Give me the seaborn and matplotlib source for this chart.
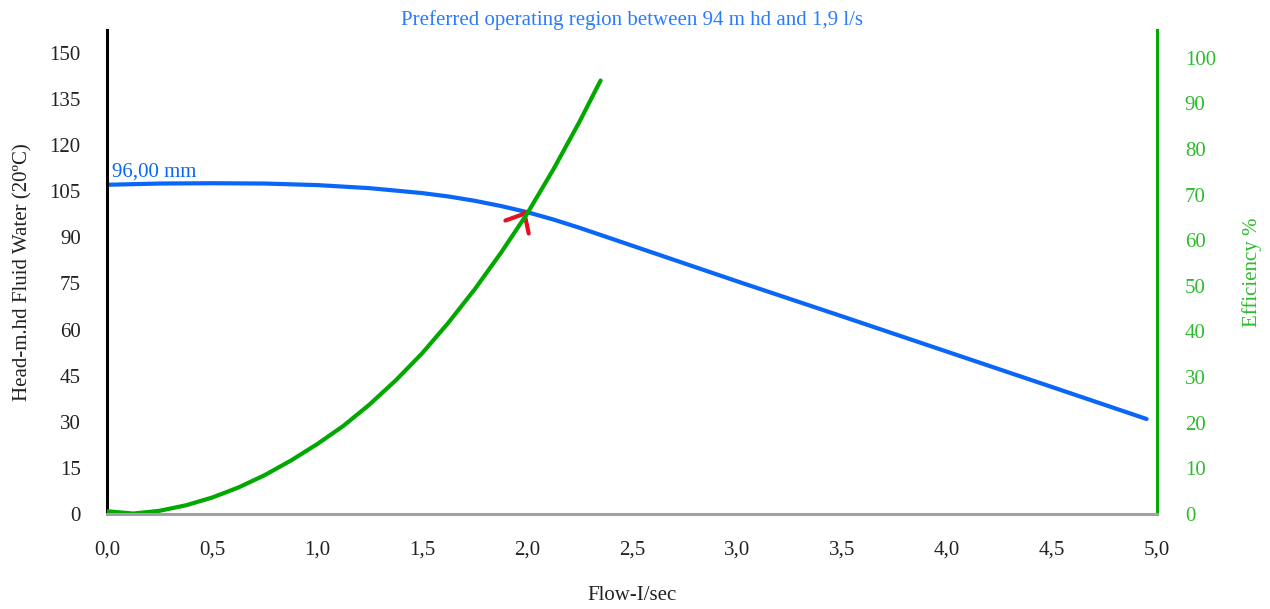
import pandas as pd
import matplotlib
matplotlib.use("Agg")
import matplotlib.pyplot as plt
import seaborn as sns

# --- Datos ---
head_flow = [0.0, 0.25, 0.5, 0.75, 1.0, 1.25, 1.5, 1.625, 1.75, 1.875, 2.0, 2.125,
             2.25, 2.375, 2.5, 2.75, 3.0, 3.5, 4.0, 4.5, 4.95]
head_m = [107.1, 107.5, 107.6, 107.5, 107.0, 106.0, 104.4, 103.3, 101.9, 100.2, 98.2, 95.8,
          93.1, 90.2, 87.3, 81.5, 75.7, 64.3, 52.8, 41.3, 30.9]

eff_flow = [0.0, 0.125, 0.25, 0.375, 0.5, 0.625, 0.75, 0.875, 1.0, 1.125, 1.25, 1.375,
            1.5, 1.625, 1.75, 1.875, 2.0, 2.125, 2.25, 2.35]
eff_pct = [0.6, 0.1, 0.7, 1.9, 3.6, 5.8, 8.5, 11.7, 15.3, 19.3, 24.0, 29.3,
           35.2, 41.9, 49.2, 57.2, 65.8, 75.5, 86.0, 95.0]

x_ticks = [0.0, 0.5, 1.0, 1.5, 2.0, 2.5, 3.0, 3.5, 4.0, 4.5, 5.0]
head_ticks = [0, 15, 30, 45, 60, 75, 90, 105, 120, 135, 150]
eff_ticks = [0, 10, 20, 30, 40, 50, 60, 70, 80, 90, 100]

op_point = (1.995, 98.6)  # punto de operacion (flecha roja)
curve_label = "96,00 mm"
title = "Preferred operating region between 94 m hd and 1,9 l/s"

BLUE = "#0a66f7"
GREEN = "#00a800"
GREEN_TXT = "#2dbb2d"
RED = "#e8101e"

sns.set_theme(style="white")
plt.rcParams['font.family'] = ['Liberation Serif', 'DejaVu Serif']

fig = plt.figure(figsize=(12.7, 6.09), dpi=100)
ax = fig.add_axes([0.0843, 0.156, 0.8268, 0.795])
ax2 = ax.twinx()

df_head = pd.DataFrame({'flow': head_flow, 'head': head_m})
df_eff = pd.DataFrame({'flow': eff_flow, 'eff': eff_pct})

sns.lineplot(data=df_head, x='flow', y='head', ax=ax, color=BLUE, linewidth=3, sort=False)
sns.lineplot(data=df_eff, x='flow', y='eff', ax=ax2, color=GREEN, linewidth=3, sort=False)

ax.set_xlim(0, 5)
ax.set_ylim(0, 157.5)
ax2.set_ylim(0, 106.1)

ax.set_xticks(x_ticks)
ax.set_xticklabels([f"{v:.1f}".replace('.', ',') for v in x_ticks])
ax.set_yticks(head_ticks)
ax2.set_yticks(eff_ticks)

ax.tick_params(axis='x', length=0, pad=19, labelsize=15, labelcolor='#222222')
ax.tick_params(axis='y', length=0, pad=19, labelsize=15, labelcolor='#222222')
ax2.tick_params(axis='y', length=0, pad=20, labelsize=15, labelcolor=GREEN_TXT)

ax.set_xlabel("Flow-I/sec", fontsize=15, color='#222222', labelpad=19)
ax.set_ylabel("Head-m.hd Fluid Water (20ºC)", fontsize=15, color='#222222', labelpad=12)
ax2.set_ylabel("Efficiency %", fontsize=15, color=GREEN_TXT, labelpad=19)

for a in (ax, ax2):
    a.grid(False)
    a.spines['top'].set_visible(False)
ax.spines['right'].set_visible(False)
ax2.spines['left'].set_visible(False)
ax.spines['left'].set_color('black')
ax.spines['left'].set_linewidth(2.2)
ax2.spines['bottom'].set_color('#a0a0a0')
ax2.spines['bottom'].set_linewidth(2.2)
ax.spines['bottom'].set_visible(False)
ax2.spines['right'].set_color(GREEN)
ax2.spines['right'].set_linewidth(2.2)

ax.set_title(title, fontsize=15, color='#2a7bff', pad=2)
ax.text(0.024, 109.7, curve_label, fontsize=15, color=BLUE, ha='left', va='baseline')

ax.annotate("", xy=op_point, xytext=(-0.5, -0.9), textcoords='offset points',
            arrowprops=dict(arrowstyle="->,head_length=0.55,head_width=0.48",
                            color=RED, lw=3, mutation_scale=20,
                            shrinkA=0, shrinkB=0),
            zorder=5)

fig.savefig("out.png", dpi=100)
